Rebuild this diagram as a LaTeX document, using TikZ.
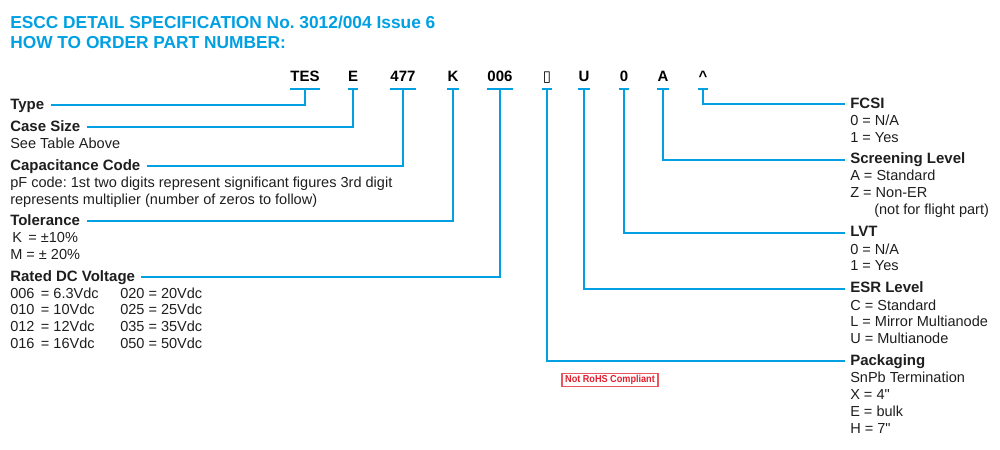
\documentclass[tikz,border=0pt]{standalone}
\usepackage{fontspec}
\setmainfont{Liberation Sans}
\newfontfamily\boxfont{DejaVu Sans}
\definecolor{esccblue}{RGB}{0,160,227}
\definecolor{rohsred}{RGB}{225,30,45}
\definecolor{inkgray}{RGB}{30,30,30}
\frenchspacing

\begin{document}
\begin{tikzpicture}[x=0.75pt,y=-0.75pt,
  title/.style={anchor=base west, inner sep=0, text=esccblue,
    font=\fontsize{13}{16}\selectfont\bfseries},
  code/.style={anchor=base, inner xsep=0, inner ysep=0, outer ysep=6.2pt,
    text depth=0pt, minimum width=6.75pt,
    font=\fontsize{11.25}{13}\selectfont\bfseries},
  head/.style={anchor=base west, inner sep=0, text=inkgray,
    font=\fontsize{11.25}{13}\selectfont\bfseries},
  body/.style={anchor=base west, inner sep=0, align=left, text=inkgray,
    font=\fontsize{10.9}{12.6}\selectfont},
  conn/.style={esccblue, line width=1.5pt},
  ]
  \useasboundingbox (0,0) rectangle (1000,450);

  % Heading
  \node[title] (t1) at (10,28) {ESCC DETAIL SPECIFICATION No. 3012/004 Issue 6};
  \node[title] (t2) at (10,48) {HOW TO ORDER PART NUMBER:};

  % Part number fields
  \node[code] (tes)  at (305,81) {TES};
  \node[code] (case) at (353,81) {E};
  \node[code] (cap)  at (403,81) {477};
  \node[code] (tol)  at (453,81) {K};
  \node[code] (volt) at (500,81) {006};
  \node[code] (pkg)  at (547,81) {{\boxfont ▯}};
  \node[code] (esr)  at (584,81) {U};
  \node[code] (lvt)  at (624,81) {0};
  \node[code] (scr)  at (663,81) {A};
  \node[code] (fcsi) at (703,81) {\textasciicircum};

  \foreach \f in {tes,case,cap,tol,volt,pkg,esr,lvt,scr,fcsi}
    \draw[conn] (\f.south west) -- (\f.south east);

  % Left side (multi-line texts sit on their last baseline)
  \node[head] (type) at (10,109) {Type};
  \node[head] (size) at (10,131) {Case Size};
  \node[body] (sizet) at (10,148) {See Table Above};
  \node[head] (capc) at (10,170) {Capacitance Code};
  \node[body] (capt) at (10,204) {pF code: 1st two digits represent significant figures 3rd digit\\represents multiplier (number of zeros to follow)};
  \node[head] (tolr) at (10,225) {Tolerance};
  \node[body] (tolt) at (10,259.3) {\kern1.5pt K \,= ±10\%\\M = ± 20\%};
  \node[head] (rdcv) at (10,281) {Rated DC Voltage};
  \node[body] (vlta) at (10,348.4) {006 \,= 6.3Vdc\\010 \,= 10Vdc\\012 \,= 12Vdc\\016 \,= 16Vdc};
  \node[body] (vltb) at (120,348.4) {020 = 20Vdc\\025 = 25Vdc\\035 = 35Vdc\\050 = 50Vdc};

  % Right side
  \node[head] (fcsil) at (850,108) {FCSI};
  \node[body] (fcsit) at (850,142.5) {0 = N/A\\1 = Yes};
  \node[head] (scrl) at (850,163.3) {Screening Level};
  \node[body] (scrt) at (850,214.3) {A = Standard\\Z = Non-ER\\\hspace*{18pt}(not for flight part)};
  \node[head] (lvtl) at (850,236.7) {LVT};
  \node[body] (lvtt) at (850,270.8) {0 = N/A\\1 = Yes};
  \node[head] (esrl) at (850,292.7) {ESR Level};
  \node[body] (esrt) at (850,343.6) {C = Standard\\L = Mirror Multianode\\U = Multianode};
  \node[head] (pkgl) at (850,365) {Packaging};
  \node[body] (pkgt) at (850,433.1) {SnPb Termination\\X = 4\textquotedbl\\E = bulk\\H = 7\textquotedbl};

  \node[draw=rohsred!75, text=rohsred, line width=0.8pt, inner sep=0,
    minimum width=72pt, minimum height=10pt,
    font=\fontsize{7.6}{9}\selectfont\bfseries] (rohs) at (610,380)
    {\scalebox{0.9}[1]{Not RoHS Compliant}};

  % Connectors
  \draw[conn, shorten >=5pt] (tes.south) |- (type.mid east);
  \draw[conn, shorten >=5pt] (case.south) |- (size.mid east);
  \draw[conn, shorten >=5pt] (cap.south) |- (capc.mid east);
  \draw[conn, shorten >=5pt] (tol.south) |- (tolr.mid east);
  \draw[conn, shorten >=4pt] (volt.south) |- (rdcv.mid east);
  \draw[conn, shorten >=3.75pt] (fcsi.south) |- (fcsil.mid west);
  \draw[conn, shorten >=3.75pt] (scr.south) |- (scrl.mid west);
  \draw[conn, shorten >=3.75pt] (lvt.south) |- (lvtl.mid west);
  \draw[conn, shorten >=3.75pt] (esr.south) |- (esrl.mid west);
  \draw[conn, shorten >=3.75pt] (pkg.south) |- (pkgl.mid west);
\end{tikzpicture}
\end{document}
